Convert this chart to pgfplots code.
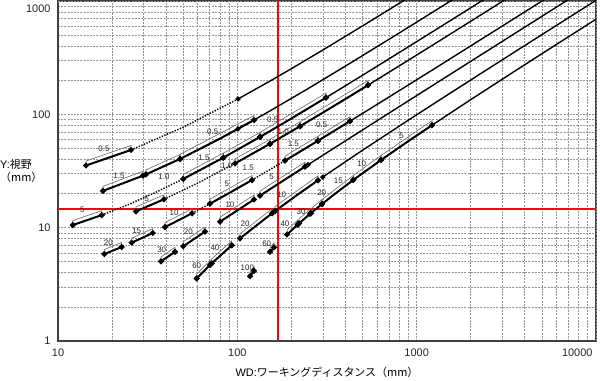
\documentclass[border=0pt]{standalone}
\usepackage{fontspec}
\setmainfont{Liberation Sans}
\newfontfamily\jp{Noto Sans CJK JP}
\usepackage{pgfplots}
\pgfplotsset{compat=1.18}
\begin{document}
\begin{tikzpicture}
\begin{axis}[
  name=ax,
  scale only axis, width=538bp, height=340bp,
  xmode=log, ymode=log, xmin=10, xmax=10000, ymin=1, ymax=1000,
  xtick={10,100,1000}, xticklabels={10,100,1000},
  extra x ticks={10000}, extra x tick labels={10000},
  extra x tick style={xticklabel style={anchor=north east}},
  ytick={1,10,100}, yticklabels={1,10,100},
  extra y ticks={1000}, extra y tick labels={1000},
  extra y tick style={yticklabel style={anchor=north east}},
  minor xtick={20,30,40,50,60,70,80,90,200,300,400,500,600,700,800,900,2000,3000,4000,5000,6000,7000,8000,9000},
  minor ytick={2,3,4,5,6,7,8,9,20,30,40,50,60,70,80,90,200,300,400,500,600,700,800,900},
  grid=both,
  major grid style={gray!85, line width=0.6bp, dash pattern=on 2bp off 1.2bp},
  minor grid style={gray!85, line width=0.6bp, dash pattern=on 2bp off 1.2bp},
  major tick length=0pt, minor tick length=0pt,
  axis line style={draw=black!75, line width=1.2bp},
  tick label style={font=\fontsize{11}{11}\selectfont, text=black!85},
  xticklabel style={yshift=-4bp},
  yticklabel style={xshift=-4bp},
  /pgf/number format/assume math mode=true,
  base/.style={black, line width=1.4bp, mark=*, mark size=1.8bp, mark indices={1}},
  seg/.style={black, line width=2bp, mark=*, mark size=1.8bp},
  dots/.style={black, line width=1.5bp, dash pattern=on 1.3bp off 1.5bp},
  band/.style={black!60, line width=0.6bp},
]
% red reference lines
\addplot[draw=red, line width=1.3bp] coordinates {(168.6,1) (168.6,1000)};
\addplot[draw=red, line width=1.3bp] coordinates {(10,14.61) (10000,14.61)};

% ---- bands (thin outlines above the ring segments)
\addplot[band] coordinates {(14.33,35.37) (25.53,48.47) (25.53,53.12) (14.33,38.77) (14.33,35.37)};
\addplot[band] coordinates {(17.82,21.10) (29.79,28.77) (29.79,31.53) (17.82,23.13) (17.82,21.10)};
\addplot[band] coordinates {(30.95,29.52) (47.9,40.38) (47.9,44.26) (30.95,32.35) (30.95,29.52)};
\addplot[band] coordinates {(47.9,40.38) (123.9,89.10) (123.9,97.65) (47.9,44.26) (47.9,40.38)};
\addplot[band] coordinates {(12.08,10.54) (17.53,12.90) (17.53,14.14) (12.08,11.55) (12.08,10.54)};
\addplot[band] coordinates {(49.96,26.93) (83.5,41.43) (83.5,45.41) (49.96,29.51) (49.96,26.93)};
\addplot[band] coordinates {(83.5,41.43) (133.8,63.19) (133.8,69.26) (83.5,45.41) (83.5,41.43)};
\addplot[band] coordinates {(133.8,63.19) (312.3,140.39) (312.3,153.87) (133.8,69.26) (133.8,63.19)};
\addplot[band] coordinates {(27.2,13.92) (39.0,17.80) (39.0,19.51) (27.2,15.26) (27.2,13.92)};
\addplot[band] coordinates {(97.1,36.88) (152.1,54.94) (152.1,60.21) (97.1,40.42) (97.1,36.88)};
\addplot[band] coordinates {(152.1,54.94) (223.7,78.46) (223.7,85.99) (152.1,60.21) (152.1,54.94)};
\addplot[band] coordinates {(223.7,78.46) (535.5,180.85) (535.5,198.21) (223.7,85.99) (223.7,78.46)};
\addplot[band] coordinates {(18.13,5.85) (22.65,6.75) (22.65,7.40) (18.13,6.41) (18.13,5.85)};
\addplot[band] coordinates {(25.76,7.37) (33.75,8.97) (33.75,9.83) (25.76,8.08) (25.76,7.37)};
\addplot[band] coordinates {(39.5,10.11) (55.9,13.39) (55.9,14.68) (39.5,11.08) (39.5,10.11)};
\addplot[band] coordinates {(70.4,16.28) (120.7,26.31) (120.7,28.84) (70.4,17.84) (70.4,16.28)};
\addplot[band] coordinates {(184.4,39.02) (281.8,58.45) (281.8,64.06) (184.4,42.77) (184.4,39.02)};
\addplot[band] coordinates {(281.8,58.45) (424.9,87.0) (424.9,95.35) (281.8,64.06) (281.8,58.45)};
\addplot[band] coordinates {(37.54,5.04) (44.92,6.12) (44.92,6.71) (37.54,5.52) (37.54,5.04)};
\addplot[band] coordinates {(49.96,6.86) (66.03,9.22) (66.03,10.11) (49.96,7.52) (49.96,6.86)};
\addplot[band] coordinates {(80.08,11.29) (123.9,17.72) (123.9,19.42) (80.08,12.37) (80.08,11.29)};
\addplot[band] coordinates {(133.8,19.17) (238.4,34.53) (238.4,37.85) (133.8,21.01) (133.8,19.17)};
\addplot[band] coordinates {(59.35,3.56) (70.4,4.68) (70.4,5.13) (59.35,3.90) (59.35,3.56)};
\addplot[band] coordinates {(71.96,4.84) (93.0,6.98) (93.0,7.65) (71.96,5.30) (71.96,4.84)};
\addplot[band] coordinates {(103.5,8.05) (156.1,13.39) (156.1,14.68) (103.5,8.82) (103.5,8.05)};
\addplot[band] coordinates {(162.2,14.01) (281.8,26.16) (281.8,28.67) (162.2,15.35) (162.2,14.01)};
\addplot[band] coordinates {(117.7,3.73) (123.9,4.16) (123.9,4.56) (117.7,4.09) (117.7,3.73)};
\addplot[band] coordinates {(152.1,6.12) (160.2,6.69) (160.2,7.33) (152.1,6.71) (152.1,6.12)};
\addplot[band] coordinates {(189.5,8.72) (217,10.63) (217,11.65) (189.5,9.56) (189.5,8.72)};
\addplot[band] coordinates {(220.8,10.90) (254.2,13.22) (254.2,14.49) (220.8,11.95) (220.8,10.90)};
\addplot[band] coordinates {(257.6,13.45) (296.6,16.17) (296.6,17.72) (257.6,14.74) (257.6,13.45)};
\addplot[band] coordinates {(296.6,16.17) (443.3,26.36) (443.3,28.89) (296.6,17.72) (296.6,16.17)};
\addplot[band] coordinates {(443.3,26.36) (632.6,39.52) (632.6,43.31) (443.3,28.89) (443.3,26.36)};
\addplot[band] coordinates {(632.6,39.52) (1218,80.2) (1218,87.90) (632.6,43.31) (632.6,39.52)};

% ---- lens A
\addplot[dots] coordinates {(25.53,48.47) (50,77.1) (100.9,136.7)};
\addplot[seg] coordinates {(14.33,35.37) (25.53,48.47)};
\addplot[base] coordinates {(100.9,136.7) (150,194.1) (200,252.6) (300,369.6) (500,603.6) (800,954.6) (1100,1305.6)};
% ---- lens B
\addplot[seg] coordinates {(17.82,21.10) (29.79,28.77)};
\addplot[seg] coordinates {(30.95,29.52) (47.9,40.38)};
\addplot[seg, mark indices={1,3}] coordinates {(47.9,40.38) (80,60.96) (123.9,89.10)};
\addplot[base] coordinates {(100.9,74.36) (150,105.8) (250,169.9) (400,266.1) (700,458.4) (1000,650.7) (1600,1035.3) (2000,1291.7)};
% ---- lens C
\addplot[seg] coordinates {(12.08,10.54) (17.53,12.90)};
\addplot[dots] coordinates {(17.53,12.90) (25,16.13) (35,20.46) (49.96,26.93)};
\addplot[seg] coordinates {(49.96,26.93) (83.5,41.43)};
\addplot[seg] coordinates {(83.5,41.43) (133.8,63.19)};
\addplot[seg, mark indices={1,3}] coordinates {(133.8,63.19) (200,91.82) (312.3,140.39)};
\addplot[base] coordinates {(312.3,140.39) (500,221.57) (800,351.3) (1200,524.3) (1800,783.8) (2400,1043.3) (3000,1302.8)};
% ---- lens C'
\addplot[seg] coordinates {(27.2,13.92) (39.0,17.80)};
\addplot[dots] coordinates {(39.0,17.80) (60,24.70) (97.1,36.88)};
\addplot[seg] coordinates {(97.1,36.88) (152.1,54.94)};
\addplot[seg] coordinates {(152.1,54.94) (223.7,78.46)};
\addplot[seg, mark indices={1,3}] coordinates {(223.7,78.46) (350,119.9) (535.5,180.85)};
\addplot[base] coordinates {(535.5,180.85) (800,267.7) (1200,399.1) (2000,661.8) (3000,990.2) (4000,1318.6)};
% ---- lens D
\addplot[seg] coordinates {(18.13,5.85) (22.65,6.75)};
\addplot[seg] coordinates {(25.76,7.37) (33.75,8.97)};
\addplot[seg] coordinates {(39.5,10.11) (55.9,13.39)};
\addplot[dots] coordinates {(55.9,13.39) (70.4,16.28)};
\addplot[seg, mark indices={1,3}] coordinates {(70.4,16.28) (92,20.59) (120.7,26.31)};
\addplot[dots] coordinates {(120.7,26.31) (150,32.16) (184.4,39.02)};
\addplot[seg, mark indices={1,3}] coordinates {(184.4,39.02) (230,48.12) (281.8,58.45)};
\addplot[seg] coordinates {(281.8,58.45) (424.9,87.0)};
\addplot[base] coordinates {(424.9,87.0) (700,141.9) (1000,201.7) (1500,301.5) (2500,501) (4000,800.2) (6500,1299)};
% ---- lens E
\addplot[seg] coordinates {(37.54,5.04) (44.92,6.12)};
\addplot[seg] coordinates {(49.96,6.86) (66.03,9.22)};
\addplot[seg] coordinates {(80.08,11.29) (123.9,17.72)};
\addplot[seg, mark indices={1,3}] coordinates {(133.8,19.17) (180,25.95) (238.4,34.53)};
\addplot[base] coordinates {(247.8,35.91) (400,58.25) (700,102.3) (1200,175.7) (2000,293.1) (3500,513.3) (6815,1000) (8500,1247.3)};
% ---- lens F
\addplot[seg] coordinates {(59.35,3.56) (70.4,4.68)};
\addplot[seg] coordinates {(71.96,4.84) (93.0,6.98)};
\addplot[seg] coordinates {(103.5,8.05) (156.1,13.39)};
\addplot[seg, mark indices={1,3}] coordinates {(162.2,14.01) (215,19.38) (281.8,26.16)};
\addplot[base] coordinates {(299.2,27.93) (500,48.33) (900,88.97) (1500,149.9) (2500,251.5) (4000,403.9) (6500,657.9) (11000,1115.1)};
% ---- lens G
\addplot[seg] coordinates {(117.7,3.73) (123.9,4.16)};
\addplot[seg] coordinates {(152.1,6.12) (160.2,6.69)};
\addplot[seg] coordinates {(189.5,8.72) (217,10.63)};
\addplot[seg] coordinates {(220.8,10.90) (254.2,13.22)};
\addplot[seg] coordinates {(257.6,13.45) (296.6,16.17)};
\addplot[seg, mark indices={1,3}] coordinates {(296.6,16.17) (360,20.57) (443.3,26.36)};
\addplot[seg] coordinates {(443.3,26.36) (632.6,39.52)};
\addplot[seg, mark indices={1,3}] coordinates {(632.6,39.52) (880,56.71) (1218,80.2)};
\addplot[base] coordinates {(1218,80.2) (2000,134.6) (3500,238.8) (6000,412.6) (11000,760.0)};

% labels
\begin{scope}[every node/.style={font=\fontsize{8}{8}\selectfont, text=black!85, inner sep=0pt}]
\node at (axis cs:18.05,49.45) {0.5};
\node at (axis cs:21.89,28.57) {1.5};
\node at (axis cs:39.0,28.0) {1.0};
\node at (axis cs:72.9,69.86) {0.5};
\node at (axis cs:65.19,41.18) {1.5};
\node at (axis cs:87.27,35.0) {1.0};
\node at (axis cs:115.1,33.82) {1.5};
\node at (axis cs:157.5,90.4) {0.5};
\node at (axis cs:180.4,70.3) {1.0};
\node at (axis cs:295.4,81.7) {0.5};
\node at (axis cs:205.2,55.5) {1.5};
\node at (axis cs:13.66,14.52) {5};
\node at (axis cs:31.23,18.09) {5};
\node at (axis cs:87.27,24.53) {5};
\node at (axis cs:155.5,27.83) {5};
\node at (axis cs:825.2,64.41) {5};
\node at (axis cs:44.36,13.47) {10};
\node at (axis cs:91.0,16.08) {10};
\node at (axis cs:176.8,19.43) {10};
\node at (axis cs:493.8,36.98) {10};
\node at (axis cs:27.48,9.35) {15};
\node at (axis cs:365.7,25.92) {15};
\node at (axis cs:19.08,7.37) {20};
\node at (axis cs:53.29,9.16) {20};
\node at (axis cs:110.4,10.78) {20};
\node at (axis cs:295.4,20.23) {20};
\node at (axis cs:37.88,6.353) {30};
\node at (axis cs:226.5,13.89) {30};
\node at (axis cs:75.06,6.71) {40};
\node at (axis cs:184.4,10.78) {40};
\node at (axis cs:59.35,4.62) {60};
\node at (axis cs:145.8,7.28) {60};
\node at (axis cs:113.7,4.47) {100};
\end{scope}
\end{axis}
\node[anchor=west, align=left, font=\fontsize{11}{13}\selectfont, inner sep=0pt] at ([xshift=-58bp]ax.west) {Y:{\jp 視野}\\{\jp （mm）}};
\node[font=\fontsize{11}{11}\selectfont, inner sep=0pt] at ([yshift=-31bp]ax.south) {WD:{\jp ワーキングディスタンス（mm）}};
\pgfresetboundingbox
\path[use as bounding box] ([shift={(-58bp,-40bp)}]ax.south west) rectangle ([shift={(4bp,1bp)}]ax.north east);
\end{tikzpicture}
\end{document}
